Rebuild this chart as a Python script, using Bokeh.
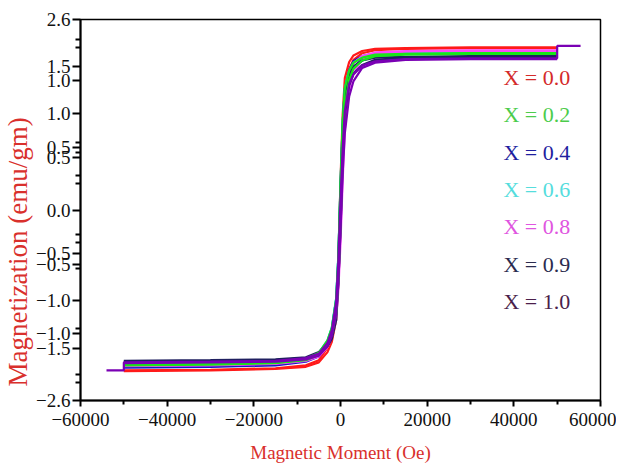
from bokeh.plotting import figure
from bokeh.models import Range1d, FixedTicker, Label, Title
from bokeh.embed import file_html
from bokeh.resources import INLINE

# ---------------- data ----------------
field = [-50000, -30000, -15000, -8000, -5000, -3000, -2000, -1000, -500, 0,
         500, 1000, 2000, 3000, 5000, 8000, 15000, 30000, 50000]

series_names = ["X = 0.0", "X = 0.2", "X = 0.4", "X = 0.6", "X = 0.8", "X = 0.9", "X = 1.0"]

# ascending-field branch (lower) and descending-field branch (upper), in field order
m_asc_00 = [-2.20, -2.19, -2.17, -2.14, -2.08, -1.94, -1.80, -1.50, -1.00, -0.20, 0.85, 1.55, 1.92, 2.05, 2.14, 2.18, 2.20, 2.21, 2.21]
m_desc_00 = [-2.19, -2.18, -2.16, -2.12, -2.05, -1.88, -1.70, -1.30, -0.70, 0.40, 1.30, 1.80, 2.02, 2.11, 2.17, 2.20, 2.21, 2.22, 2.22]

m_asc_02 = [-2.12, -2.11, -2.09, -2.05, -1.98, -1.84, -1.70, -1.42, -0.95, -0.20, 0.75, 1.40, 1.78, 1.93, 2.04, 2.10, 2.12, 2.13, 2.13]
m_desc_02 = [-2.11, -2.10, -2.08, -2.03, -1.95, -1.78, -1.61, -1.22, -0.65, 0.35, 1.20, 1.66, 1.90, 2.01, 2.08, 2.12, 2.13, 2.14, 2.14]

m_asc_04 = [-2.15, -2.14, -2.12, -2.07, -2.00, -1.85, -1.71, -1.42, -0.95, -0.20, 0.72, 1.38, 1.78, 1.94, 2.06, 2.12, 2.15, 2.16, 2.16]
m_desc_04 = [-2.14, -2.13, -2.11, -2.05, -1.97, -1.80, -1.62, -1.22, -0.65, 0.32, 1.18, 1.65, 1.91, 2.03, 2.10, 2.14, 2.16, 2.17, 2.17]

m_asc_06 = [-2.12, -2.11, -2.09, -2.05, -1.98, -1.84, -1.69, -1.40, -0.93, -0.18, 0.74, 1.39, 1.77, 1.92, 2.04, 2.10, 2.13, 2.14, 2.14]
m_desc_06 = [-2.11, -2.10, -2.08, -2.03, -1.95, -1.78, -1.60, -1.20, -0.62, 0.36, 1.20, 1.66, 1.90, 2.01, 2.09, 2.13, 2.14, 2.15, 2.15]

m_asc_08 = [-2.13, -2.12, -2.10, -2.06, -2.00, -1.87, -1.74, -1.50, -1.10, -0.45, 0.40, 1.10, 1.65, 1.88, 2.05, 2.13, 2.16, 2.17, 2.17]
m_desc_08 = [-2.12, -2.11, -2.09, -2.05, -1.97, -1.82, -1.66, -1.32, -0.85, 0.05, 0.90, 1.45, 1.85, 2.00, 2.10, 2.15, 2.17, 2.18, 2.18]

m_asc_09 = [-2.07, -2.06, -2.05, -2.02, -1.96, -1.86, -1.76, -1.50, -1.00, -0.25, 0.65, 1.30, 1.70, 1.86, 1.98, 2.05, 2.08, 2.09, 2.09]
m_desc_09 = [-2.06, -2.05, -2.04, -2.01, -1.94, -1.82, -1.70, -1.35, -0.75, 0.25, 1.10, 1.58, 1.85, 1.96, 2.04, 2.08, 2.09, 2.10, 2.10]

m_asc_10 = [-2.09, -2.08, -2.07, -2.04, -1.99, -1.86, -1.72, -1.42, -1.00, -0.30, 0.50, 1.05, 1.55, 1.76, 1.94, 2.01, 2.05, 2.06, 2.06]
m_desc_10 = [-2.08, -2.07, -2.06, -2.02, -1.96, -1.81, -1.64, -1.25, -0.70, 0.15, 0.85, 1.35, 1.72, 1.85, 1.97, 2.03, 2.06, 2.07, 2.07]

# extra end segments of the X = 1.0 trace
tail_top_h = [55400, 50000]
tail_top_m = [2.24, 2.24]
tail_bot_h = [-50000, -54000]
tail_bot_m = [-2.19, -2.19]

xtick_values = [-60000, -40000, -20000, 0, 20000, 40000, 60000]
xtick_labels = ["\u221260000", "\u221240000", "\u221220000", "0", "20000", "40000", "60000"]
xminor_values = [-50000, -30000, -10000, 10000, 30000, 50000]

ytick_values = [2.6, 1.957, 1.765, 1.314, 0.848, 0.712, 0.0, -0.588, -0.739, -1.232, -1.683, -1.888, -2.6]
ytick_labels = ["2.6", "1.5", "1.0", "1.0", "0.5", "0.5", "0.0", "\u22120.5", "\u22120.5",
                "\u22121.0", "\u22121.0", "\u22121.5", "\u22122.6"]
yminor_values = [2.326, 2.217, 0.917, 0.780, 0.465, 0.356, -0.328, -0.438, -0.794, -1.615, -2.244, -2.353]

# ---------------- style ----------------
line_colors = ["#ff1a1a", "#19e619", "#1414c8", "#00dede", "#ff44ff", "#202060", "#7a00b4"]
text_colors = ["#d42a2a", "#4ccc4c", "#1f1f9f", "#55dddd", "#e055e0", "#2b2b4f", "#4b1f4b"]
FONT = "Liberation Serif"
AXIS_RED = "#d9302c"

asc = [m_asc_00, m_asc_02, m_asc_04, m_asc_06, m_asc_08, m_asc_09, m_asc_10]
desc = [m_desc_00, m_desc_02, m_desc_04, m_desc_06, m_desc_08, m_desc_09, m_desc_10]

p = figure(width=616, height=466, output_backend="svg", toolbar_location=None,
           x_range=Range1d(-60000, 60000), y_range=Range1d(-2.6, 2.6),
           min_border_left=78, min_border_right=16, min_border_top=19, min_border_bottom=66)
p.background_fill_color = "white"
p.border_fill_color = "white"
p.outline_line_color = "black"
p.outline_line_width = 1.5
p.xgrid.visible = False
p.ygrid.visible = False

draw_order = [0, 2, 3, 4, 5, 1, 6]
for i in draw_order:
    hx_desc = list(reversed(field))
    my_desc = list(reversed(desc[i]))
    if i == 6:
        hx_desc = tail_top_h + hx_desc + tail_bot_h
        my_desc = tail_top_m + my_desc + tail_bot_m
    p.line(hx_desc, my_desc, line_color=line_colors[i], line_width=2.2)
    p.line(field, asc[i], line_color=line_colors[i], line_width=2.2)

# x axis
xa = p.xaxis[0]
xa.ticker = FixedTicker(ticks=xtick_values, minor_ticks=xminor_values)
xa.major_label_overrides = {v: s for v, s in zip(xtick_values, xtick_labels)}
xa.axis_label = "Magnetic Moment (Oe)"
xa.axis_label_text_font = FONT
xa.axis_label_text_font_size = "19px"
xa.axis_label_text_font_style = "normal"
xa.axis_label_text_color = AXIS_RED
xa.axis_label_standoff = 13
xa.major_label_text_font = FONT
xa.major_label_text_font_size = "19px"
xa.major_label_text_color = "#111111"
xa.major_label_standoff = 6
xa.axis_line_width = 2
xa.major_tick_out = 6
xa.major_tick_in = 0
xa.minor_tick_out = 4
xa.minor_tick_in = 0
xa.major_tick_line_width = 2
xa.minor_tick_line_width = 2

# y axis
ya = p.yaxis[0]
ya.ticker = FixedTicker(ticks=ytick_values, minor_ticks=yminor_values)
ya.major_label_overrides = {v: s for v, s in zip(ytick_values, ytick_labels)}
ya.major_label_text_font = FONT
ya.major_label_text_font_size = "19px"
ya.major_label_text_color = "#111111"
ya.major_label_standoff = 2
ya.axis_line_width = 2
ya.major_tick_out = 8
ya.major_tick_in = 0
ya.minor_tick_out = 5
ya.minor_tick_in = 0
ya.major_tick_line_width = 2
ya.minor_tick_line_width = 2

# y axis title as a side title, anchored near the bottom of the frame as in the original
ytitle = Title(text="Magnetization (emu/gm)", align="left", offset=14,
               text_font=FONT, text_font_size="27px", text_font_style="normal",
               text_color=AXIS_RED, standoff=1)
p.add_layout(ytitle, "left")

# series labels (legend text)
label_x = 37600
label_y0 = 1.81
label_step = 0.51
for i, name in enumerate(series_names):
    p.add_layout(Label(x=label_x, y=label_y0 - i * label_step, text=name,
                       text_font=FONT, text_font_size="22px",
                       text_color=text_colors[i], text_baseline="middle"))

open("out.html", "w").write(file_html(p, INLINE))
